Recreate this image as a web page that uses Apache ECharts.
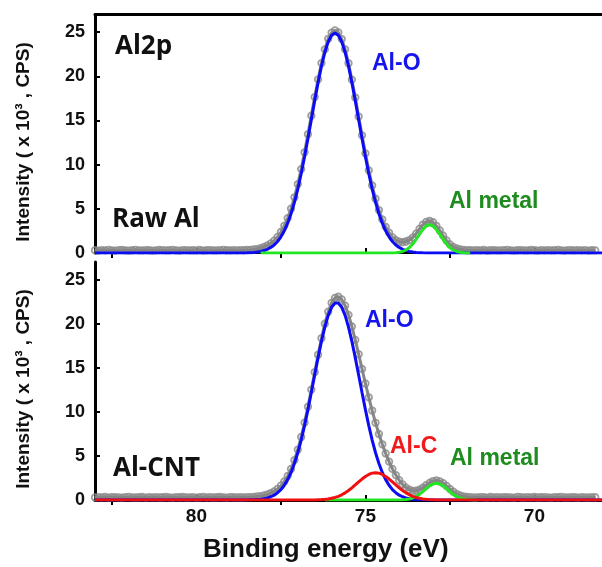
<!DOCTYPE html>
<html>
<head>
<meta charset="utf-8">
<script src="https://cdn.jsdelivr.net/npm/echarts@6/dist/echarts.min.js"></script>
<style>html,body{margin:0;padding:0;background:#fff;}#c{width:602px;height:567px;}</style>
</head>
<body>
<div id="c"></div>
<script>
// ---------- DATA ----------
// measured spectra: sampled every 0.1 eV starting at 83.0 eV (decreasing)
const dataStart = 83.0;
const dataStep = 0.1;
const rawAlData = [
0.31,0.28,0.33,0.30,0.35,0.29,0.27,0.32,0.34,0.30,
0.28,0.31,0.36,0.30,0.29,0.33,0.31,0.27,0.30,0.34,
0.32,0.29,0.31,0.35,0.30,0.28,0.32,0.33,0.29,0.31,
0.30,0.34,0.28,0.31,0.33,0.30,0.29,0.32,0.35,0.31,
0.30,0.33,
0.30,0.32,0.31,0.34,0.36,0.40,0.45,0.55,0.68,0.85,
1.08,1.40,1.82,2.38,3.08,3.95,5.02,6.30,7.80,9.50,
11.40,13.45,15.55,17.65,19.65,21.50,23.05,24.25,24.95,25.20,
24.98,24.22,23.05,21.48,19.62,17.60,15.45,13.32,11.28,9.36,
7.64,6.14,4.86,3.80,2.96,2.30,1.78,1.45,1.28,1.22,
1.30,1.45,1.75,2.20,2.72,3.20,3.52,3.62,3.48,3.08,
2.55,1.96,1.42,0.98,0.70,0.52,0.42,0.36,0.33,
0.31,0.29,0.32,0.30,0.34,0.28,0.31,0.33,0.30,0.29,
0.32,0.35,0.30,0.28,0.31,0.33,0.29,0.30,0.34,0.31,
0.28,0.32,0.30,0.33,0.29,0.31,0.35,0.30,0.28,0.32,
0.31,0.29,0.33,0.30,0.32,0.28,0.31,0.30
];
const alCntData = [
0.29,0.32,0.30,0.34,0.28,0.31,0.33,0.30,0.27,0.32,
0.35,0.30,0.29,0.31,0.34,0.28,0.32,0.30,0.33,0.29,
0.31,0.36,0.30,0.28,0.32,0.31,0.34,0.29,0.30,0.33,
0.28,0.31,0.35,0.30,0.32,0.29,0.31,0.34,0.30,0.28,
0.32,0.31,
0.30,0.31,0.30,0.32,0.33,0.36,0.40,0.44,0.52,0.63,
0.78,0.98,1.26,1.62,2.10,2.72,3.52,4.52,5.72,7.15,
8.78,10.58,12.52,14.50,16.48,18.35,20.00,21.36,22.35,22.93,
23.06,22.75,22.05,21.00,19.68,18.16,16.54,14.87,13.22,11.64,
10.15,8.76,7.49,6.32,5.28,4.35,3.53,2.83,2.24,1.78,
1.41,1.16,1.04,1.05,1.16,1.39,1.68,1.95,2.15,2.21,
2.12,1.90,1.59,1.25,0.94,0.70,0.53,0.42,0.36,
0.32,0.30,0.29,0.33,0.31,0.28,0.34,0.30,0.32,0.29,
0.31,0.33,0.30,0.28,0.35,0.31,0.29,0.32,0.30,0.34,
0.29,0.31,0.33,0.30,0.28,0.32,0.31,0.35,0.29,0.30,
0.33,0.31,0.28,0.32,0.30,0.29,0.33,0.31
];

// fitted components (energy, intensity)
const rawAlOE = [83.0,78.7,78.6,78.5,78.4,78.3,78.2,78.1,78.0,77.9,77.8,77.7,77.6,77.5,77.4,77.3,77.2,77.1,77.0,76.9,76.8,76.7,76.6,76.5,76.4,76.3,76.2,76.1,76.0,75.9,75.8,75.7,75.6,75.5,75.4,75.3,75.2,75.1,75.0,74.9,74.8,74.7,74.6,74.5,74.4,74.3,74.2,74.1,74.0,73.9,73.8,73.7,73.6,73.5,73.4,73.3,73.2,73.1,68.0];
const rawAlO = [0,0,0.01,0.02,0.04,0.07,0.11,0.18,0.28,0.42,0.63,0.91,1.30,1.83,2.51,3.37,4.44,5.73,7.24,8.97,10.90,12.96,15.10,17.25,19.29,21.15,22.72,23.90,24.65,24.90,24.65,23.90,22.72,21.15,19.29,17.25,15.10,12.96,10.90,8.97,7.24,5.73,4.44,3.37,2.51,1.83,1.30,0.91,0.63,0.42,0.28,0.18,0.11,0.07,0.04,0.02,0.01,0,0];
const rawMetalE = [78.1,74.3,74.2,74.1,74.0,73.9,73.8,73.7,73.6,73.5,73.4,73.3,73.2,73.1,73.0,72.9,72.8,72.7,72.6,72.5,72.4,72.3,72.2,72.1,72.0,71.9];
const rawMetal = [0,0,0.01,0.03,0.08,0.17,0.34,0.61,1.02,1.54,2.12,2.66,3.06,3.20,3.06,2.66,2.12,1.54,1.02,0.61,0.34,0.17,0.08,0.03,0.01,0];

const cntAlOE = [83.0,78.6,78.5,78.4,78.3,78.2,78.1,78.0,77.9,77.8,77.7,77.6,77.5,77.4,77.3,77.2,77.1,77.0,76.9,76.8,76.7,76.6,76.5,76.4,76.3,76.2,76.1,76.0,75.9,75.8,75.7,75.6,75.5,75.4,75.3,75.2,75.1,75.0,74.9,74.8,74.7,74.6,74.5,74.4,74.3,74.2,74.1,74.0,73.9,73.8,73.7,73.6,73.5,73.4,73.3,73.2,73.1,68.0];
const cntAlO = [0,0,0.01,0.02,0.03,0.06,0.09,0.15,0.24,0.37,0.55,0.82,1.18,1.67,2.31,3.12,4.14,5.36,6.80,8.44,10.25,12.19,14.19,16.15,18.00,19.62,20.94,21.86,22.34,22.34,21.86,20.94,19.62,18.00,16.15,14.19,12.19,10.25,8.44,6.80,5.36,4.14,3.12,2.31,1.67,1.18,0.82,0.55,0.37,0.24,0.15,0.09,0.06,0.03,0.02,0.01,0,0];
const cntMetalE = [76.2,74.1,74.0,73.9,73.8,73.7,73.6,73.5,73.4,73.3,73.2,73.1,73.0,72.9,72.8,72.7,72.6,72.5,72.4,72.3,72.2,72.1,72.0,71.9,71.8,71.7];
const cntMetal = [0,0,0.01,0.03,0.06,0.12,0.23,0.40,0.64,0.95,1.29,1.60,1.82,1.90,1.82,1.60,1.29,0.95,0.64,0.40,0.23,0.12,0.06,0.03,0.01,0];
const cntAlCE = [83.0,76.6,76.5,76.4,76.3,76.2,76.1,76.0,75.9,75.8,75.7,75.6,75.5,75.4,75.3,75.2,75.1,75.0,74.9,74.8,74.7,74.6,74.5,74.4,74.3,74.2,74.1,74.0,73.9,73.8,73.7,73.6,73.5,73.4,73.3,73.2,73.1,73.0,72.9,72.8,68.0];
const cntAlC = [0,0,0.01,0.03,0.05,0.08,0.12,0.19,0.29,0.42,0.59,0.81,1.08,1.38,1.71,2.05,2.38,2.67,2.90,3.05,3.10,3.05,2.90,2.67,2.38,2.05,1.71,1.38,1.08,0.81,0.59,0.42,0.29,0.19,0.12,0.08,0.05,0.03,0.01,0,0];

// axes
const xMin = 68, xMax = 83;
const xMajor = [70, 75, 80];
const xMinor = [72.5, 77.5, 82.5];
const yMin = 0, yMax = 27;
const yTicks = [0, 5, 10, 15, 20, 25];
const yTitle = 'Intensity ( x 10\u00B3 , CPS)';
const xTitle = 'Binding energy (eV)';

// ---------- CHART ----------
const F = 'Liberation Sans, Arial, sans-serif';
const F2 = 'Open Sans, Liberation Sans, sans-serif';
const dataE = rawAlData.map((_, i) => +(dataStart - i * dataStep).toFixed(1));
const pairs = (E, V) => E.map((e, i) => [e, V[i]]);

function mainX(grid, labels) {
  return {
    type: 'value', gridIndex: grid, position: 'bottom', min: xMin, max: xMax, inverse: true,
    axisLine: { show: true, onZero: false, lineStyle: { color: '#000', width: labels ? 3 : 2 } },
    axisTick: { show: true, inside: true, length: 5, customValues: xMajor, lineStyle: { color: '#000', width: 2 } },
    axisLabel: { show: labels, customValues: xMajor, margin: 7, color: '#111', fontFamily: F, fontWeight: 'bold', fontSize: 19 },
    splitLine: { show: false }
  };
}
function minorX(grid) {
  return {
    type: 'value', gridIndex: grid, position: 'bottom', min: xMin, max: xMax, inverse: true,
    axisLine: { show: false },
    axisTick: { show: true, inside: false, length: 5, customValues: xMinor, lineStyle: { color: '#000', width: 2 } },
    axisLabel: { show: false },
    splitLine: { show: false }
  };
}
function mainY(grid) {
  return {
    type: 'value', gridIndex: grid, min: yMin, max: yMax,
    axisLine: { show: true, onZero: false, lineStyle: { color: '#000', width: 3 } },
    axisTick: { show: true, inside: true, length: 5, customValues: yTicks, lineStyle: { color: '#000', width: 2 } },
    axisLabel: { customValues: yTicks, margin: 10, color: '#111', fontFamily: F, fontWeight: 'bold', fontSize: 18 },
    splitLine: { show: false }
  };
}
const gray = '#868686';
function dataSeries(xi, yi, V) {
  return [
    { type: 'line', xAxisIndex: xi, yAxisIndex: yi, data: pairs(dataE, V), showSymbol: false, symbol: 'none',
      lineStyle: { color: gray, width: 3 }, z: 1, silent: true },
    { type: 'scatter', xAxisIndex: xi, yAxisIndex: yi, data: pairs(dataE, V), z: 2, silent: true,
      symbol: 'circle', symbolSize: 6.5, itemStyle: { color: 'rgba(0,0,0,0)', borderColor: gray, borderWidth: 1.8 } }
  ];
}
function fitLine(xi, yi, E, V, color, z) {
  return { type: 'line', xAxisIndex: xi, yAxisIndex: yi, data: pairs(E, V), showSymbol: false, symbol: 'none',
    lineStyle: { color: color, width: 3 }, z: z, silent: true };
}
const blue = '#0b0bf5', green = '#22e622', red = '#f01010';
const lbl = (text, left, top, color, size, fam) => ({ text, left, top, padding: 0,
  textStyle: { color, fontSize: size, fontWeight: 'bold', fontFamily: fam } });

const option = {
  animation: false,
  grid: [
    { left: 95, top: 14.5, width: 513, height: 238.5 },
    { left: 95, top: 262, width: 513, height: 238 }
  ],
  xAxis: [
    mainX(0, false), minorX(0),
    { type: 'value', gridIndex: 0, position: 'top', min: xMin, max: xMax, inverse: true,
      axisLine: { show: true, onZero: false, lineStyle: { color: '#000', width: 3 } },
      axisTick: { show: false }, axisLabel: { show: false }, splitLine: { show: false } },
    mainX(1, true), minorX(1)
  ],
  yAxis: [mainY(0), mainY(1)],
  title: [
    lbl('Al2p', 115, 34, '#111', 26, F2),
    lbl('Raw Al', 112, 207, '#111', 26, F2),
    lbl('Al-CNT', 113, 456, '#111', 26, F2),
    lbl('Al-O', 372, 52, '#1414ee', 23, F),
    lbl('Al metal', 449, 190, '#1e8c1e', 23, F),
    lbl('Al-O', 365, 309, '#1414ee', 23, F),
    lbl('Al-C', 390, 435, '#f01a1a', 23, F),
    lbl('Al metal', 450, 447, '#1e8c1e', 23, F),
    lbl(xTitle, 203, 537, '#111', 26, F)
  ],
  graphic: [
    { type: 'text', x: 24, y: 142, rotation: Math.PI / 2,
      style: { text: yTitle, fill: '#111', font: 'bold 19px ' + F, align: 'center', verticalAlign: 'middle' } },
    { type: 'text', x: 24, y: 389, rotation: Math.PI / 2,
      style: { text: yTitle, fill: '#111', font: 'bold 19px ' + F, align: 'center', verticalAlign: 'middle' } }
  ],
  series: [
    ...dataSeries(0, 0, rawAlData),
    fitLine(0, 0, rawAlOE, rawAlO, blue, 3),
    fitLine(0, 0, rawMetalE, rawMetal, green, 4),
    ...dataSeries(3, 1, alCntData),
    fitLine(3, 1, cntAlOE, cntAlO, blue, 3),
    fitLine(3, 1, cntMetalE, cntMetal, green, 4),
    fitLine(3, 1, cntAlCE, cntAlC, red, 5)
  ]
};
const chart = echarts.init(document.getElementById('c'), null, { renderer: 'canvas' });
chart.setOption(option);
</script>
</body>
</html>
